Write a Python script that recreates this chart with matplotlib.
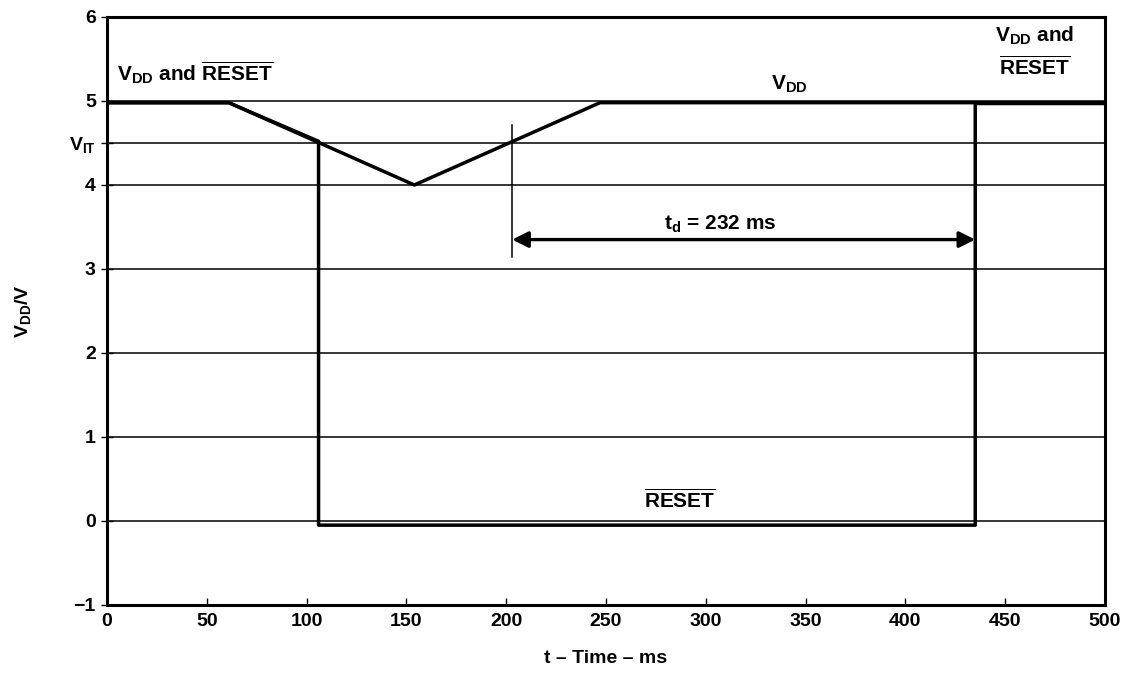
import matplotlib
matplotlib.use("Agg")
import matplotlib.pyplot as plt

plt.rcParams['font.family'] = ['Liberation Sans', 'DejaVu Sans']
plt.rcParams['font.weight'] = 'bold'
plt.rcParams['axes.labelweight'] = 'bold'
plt.rcParams['mathtext.fontset'] = 'custom'
plt.rcParams['mathtext.rm'] = 'Liberation Sans:bold'
plt.rcParams['mathtext.it'] = 'Liberation Sans:bold'
plt.rcParams['mathtext.bf'] = 'Liberation Sans:bold'
plt.rcParams['mathtext.default'] = 'bf'

# trace breakpoints (ms, V)
vdd_t = [0, 61, 154, 247, 500]
vdd_v = [4.98, 4.98, 4.0, 4.98, 4.98]
reset_t = [0, 61, 106, 106, 435, 435, 500]
reset_v = [4.98, 4.98, 4.52, -0.05, -0.05, 4.97, 4.97]

x_ticks = [0, 50, 100, 150, 200, 250, 300, 350, 400, 450, 500]
y_ticks = [-1, 0, 1, 2, 3, 4, 4.5, 5, 6]
y_labels = ['\u22121', '0', '1', '2', '3', '4', r'V$_{\mathbf{IT}}$', '5', '6']
grid_y = [0, 1, 2, 3, 4, 4.5, 5]

td_start, td_end, td_y = 203, 435, 3.35

fig = plt.figure(figsize=(11.25, 6.77), dpi=100)
ax = fig.add_axes([0.0951, 0.1064, 0.8871, 0.8685])

for g in grid_y:
    ax.axhline(g, color='black', lw=1.1, zorder=1)

ax.plot(vdd_t, vdd_v, color='black', lw=2.5, zorder=3)
ax.plot(reset_t, reset_v, color='black', lw=2.5, zorder=3)

# t_d marker line and arrow
ax.plot([td_start, td_start], [3.14, 4.71], color='black', lw=1.1)
ax.annotate('', xy=(td_end, td_y), xytext=(td_start, td_y),
            arrowprops=dict(arrowstyle='<|-|>', color='black', lw=2.4,
                            mutation_scale=24, shrinkA=0, shrinkB=0))

fs = 15
tfs = 14
ax.text(307, 3.53, r't$_{\mathbf{d}}$ = 232 ms', ha='center', va='center', fontsize=fs)
ax.text(5, 5.33, r'V$_{\mathbf{DD}}$ and $\overline{\mathbf{RESET}}$', ha='left', va='center', fontsize=fs)
ax.text(342, 5.2, r'V$_{\mathbf{DD}}$', ha='center', va='center', fontsize=fs)
ax.text(287, 0.25, r'$\overline{\mathbf{RESET}}$', ha='center', va='center', fontsize=fs)
ax.text(465, 5.78, r'V$_{\mathbf{DD}}$ and', ha='center', va='center', fontsize=fs)
ax.text(465, 5.40, r'$\overline{\mathbf{RESET}}$', ha='center', va='center', fontsize=fs)

ax.set_xlim(0, 500)
ax.set_ylim(-1, 6)
ax.set_xticks(x_ticks)
ax.set_yticks(y_ticks)
ax.set_yticklabels(y_labels)
ax.tick_params(axis='x', direction='in', length=5, width=1, labelsize=tfs, pad=6)
ax.tick_params(axis='y', direction='inout', length=8, width=1, labelsize=tfs, pad=4)
for s in ax.spines.values():
    s.set_linewidth(2.2)

ax.set_xlabel('t \u2013 Time \u2013 ms', fontsize=tfs, labelpad=14)
ax.set_ylabel(r'V$_{\mathbf{DD}}$/V', fontsize=tfs, labelpad=26)

fig.savefig('out.png', dpi=100)
